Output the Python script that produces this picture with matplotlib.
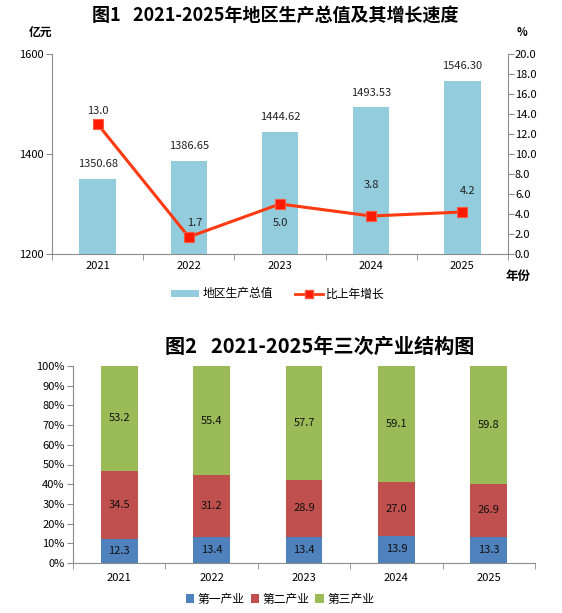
import matplotlib
matplotlib.use('Agg')
import matplotlib.pyplot as plt
from matplotlib.patches import Patch
from matplotlib.lines import Line2D

plt.rcParams['font.family'] = ['Noto Sans CJK SC', 'DejaVu Sans']
plt.rcParams['axes.unicode_minus'] = False

# Figure 1 data
years = ['2021', '2022', '2023', '2024', '2025']
gdp = [1350.68, 1386.65, 1444.62, 1493.53, 1546.30]
growth = [13.0, 1.7, 5.0, 3.8, 4.2]

# Figure 2 data (share of each sector, %)
primary = [12.3, 13.4, 13.4, 13.9, 13.3]
secondary = [34.5, 31.2, 28.9, 27.0, 26.9]
tertiary = [53.2, 55.4, 57.7, 59.1, 59.8]

BAR_BLUE = '#93CDDD'
LINE_RED = '#FF3A12'
MARK_RED = '#FF1A00'
C1, C2, C3 = '#4F81BD', '#C0504D', '#9BBB59'
AXIS_GRAY = '#8C8C8C'

W, H = 562, 613
fig = plt.figure(figsize=(W / 100, H / 100), dpi=100)


def px_rect(left, top, right, bottom):
    return [left / W, 1 - bottom / H, (right - left) / W, (bottom - top) / H]


def style_cat_axis(ax, pad):
    x = range(len(years))
    ax.set_xticks(list(x))
    ax.set_xticklabels(years, fontsize=8)
    ax.set_xticks([i - 0.5 for i in range(len(years) + 1)], minor=True)
    ax.tick_params(axis='x', which='major', length=0, pad=pad)
    ax.tick_params(axis='x', which='minor', length=4, color=AXIS_GRAY, direction='out')
    ax.set_xlim(-0.5, len(years) - 0.5)


# ---------------- Figure 1 ----------------
ax1 = fig.add_axes(px_rect(52, 54, 508, 254))
x = list(range(len(years)))
bars = ax1.bar(x, gdp, width=0.4, color=BAR_BLUE, bottom=0)
ax1.set_ylim(1200, 1600)
ax1.set_yticks([1200, 1400, 1600])
ax1.tick_params(axis='y', labelsize=8, length=4, color=AXIS_GRAY, pad=2)
style_cat_axis(ax1, 5)
for s in ['top', 'right']:
    ax1.spines[s].set_visible(False)
for s in ['left', 'bottom']:
    ax1.spines[s].set_color(AXIS_GRAY)
for xi, v in zip(x, gdp):
    ax1.annotate(f'{v:.2f}', (xi, v), xytext=(0, 7), textcoords='offset points',
                 ha='center', va='bottom', fontsize=8, color='#222222')

ax2 = ax1.twinx()
ax2.plot(x, growth, color=LINE_RED, lw=2.2, marker='s', ms=7,
         mfc=MARK_RED, mec='#FF5A40', mew=0.8, zorder=5)
ax2.set_ylim(0, 20)
ax2.set_yticks([i * 2.0 for i in range(11)])
ax2.set_yticklabels([f'{i * 2.0:.1f}' for i in range(11)])
ax2.tick_params(axis='y', labelsize=8, length=4, color=AXIS_GRAY, pad=1)
for s in ['top', 'left', 'bottom']:
    ax2.spines[s].set_visible(False)
ax2.spines['right'].set_color(AXIS_GRAY)
line_offsets = [(0, 9), (4, 10), (0, -14), (0, 22), (4, 15)]
for xi, v, off in zip(x, growth, line_offsets):
    ax2.annotate(f'{v:.1f}', (xi, v), xytext=off, textcoords='offset points',
                 ha='center', va='center', fontsize=8, color='#222222')

fig.text(275 / W, 1 - 16 / H, '图1   2021-2025年地区生产总值及其增长速度',
         ha='center', va='center', fontsize=13, fontweight='bold')
fig.text(41 / W, 1 - 32 / H, '亿元', ha='center', va='center', fontsize=8.5, fontweight='bold')
fig.text(522 / W, 1 - 32 / H, '%', ha='center', va='center', fontsize=8, fontweight='bold')
fig.text(518 / W, 1 - 276 / H, '年份', ha='center', va='center', fontsize=9, fontweight='bold')

h1 = [Patch(facecolor=BAR_BLUE, edgecolor='none'),
      Line2D([0], [0], color=LINE_RED, lw=2, marker='s', ms=6, mfc=MARK_RED, mec='#FF5A40')]
fig.legend(h1, ['地区生产总值', '比上年增长'], loc='center', ncol=2,
           bbox_to_anchor=(278 / W, 1 - 294 / H), frameon=False, fontsize=8.5,
           handlelength=2.4, handleheight=0.6, handletextpad=0.3, columnspacing=1.8)

# ---------------- Figure 2 ----------------
ax3 = fig.add_axes(px_rect(73, 366, 535, 563))
b1 = ax3.bar(x, primary, width=0.4, color=C1)
b2 = ax3.bar(x, secondary, width=0.4, bottom=primary, color=C2)
bottom3 = [p + s for p, s in zip(primary, secondary)]
b3 = ax3.bar(x, tertiary, width=0.4, bottom=bottom3, color=C3)
ax3.set_ylim(0, 100)
ax3.set_yticks(range(0, 101, 10))
ax3.set_yticklabels([f'{v}%' for v in range(0, 101, 10)])
ax3.tick_params(axis='y', labelsize=8, length=4, color=AXIS_GRAY, pad=2)
style_cat_axis(ax3, 7)
for s in ['top', 'right']:
    ax3.spines[s].set_visible(False)
for s in ['left', 'bottom']:
    ax3.spines[s].set_color(AXIS_GRAY)
for cont, vals, bots in [(b1, primary, [0] * 5), (b2, secondary, primary), (b3, tertiary, bottom3)]:
    for xi, v, b in zip(x, vals, bots):
        ax3.text(xi, b + v / 2, f'{v:.1f}', ha='center', va='center', fontsize=8, color='#111111')

fig.text(320 / W, 1 - 346 / H, '图2   2021-2025年三次产业结构图',
         ha='center', va='center', fontsize=14.5, fontweight='bold')

h2 = [Patch(facecolor=c, edgecolor='none') for c in (C1, C2, C3)]
fig.legend(h2, ['第一产业', '第二产业', '第三产业'], loc='center', ncol=3,
           bbox_to_anchor=(280 / W, 1 - 599 / H), frameon=False, fontsize=8.5,
           handlelength=0.7, handleheight=0.7, handletextpad=0.3, columnspacing=0.5)

fig.savefig('out.png', dpi=100)
